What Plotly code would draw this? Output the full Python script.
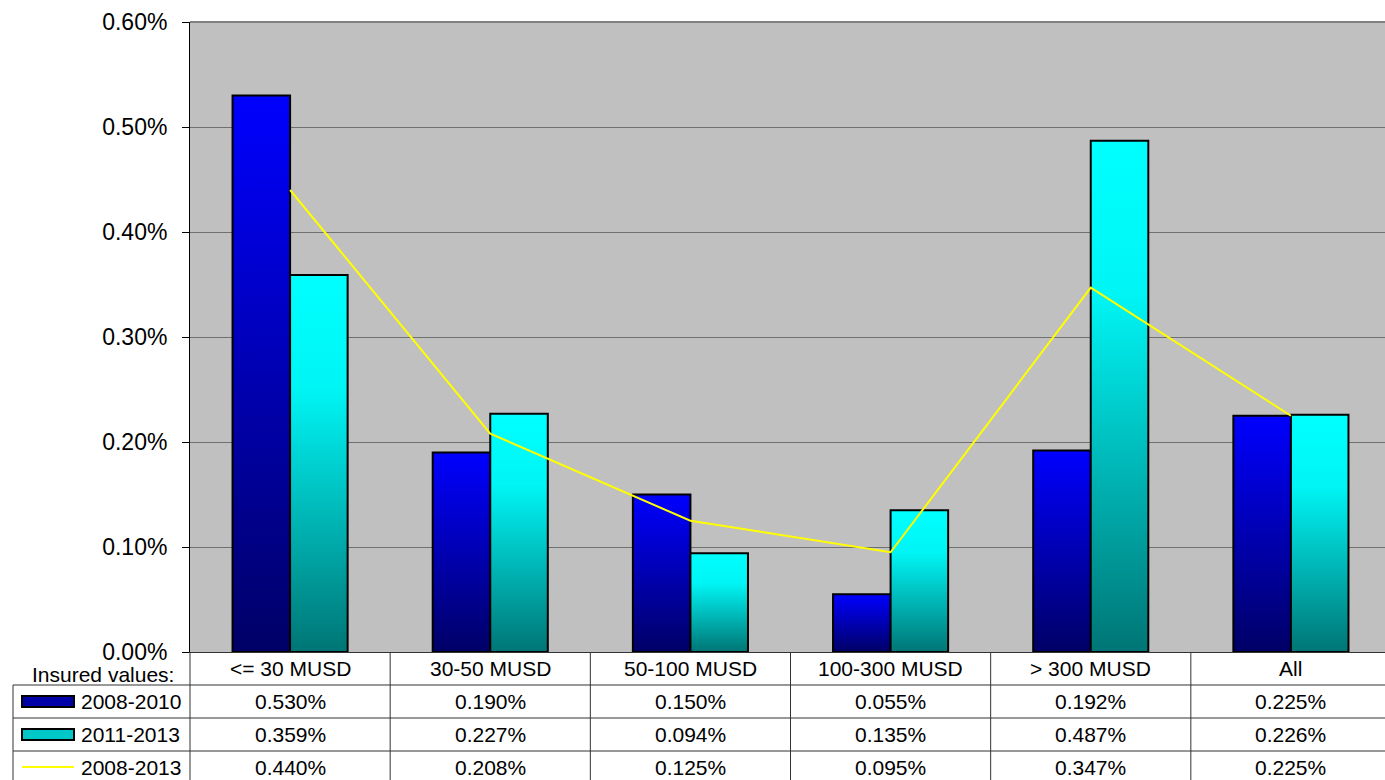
import plotly.graph_objects as go

categories = ["<= 30 MUSD", "30-50 MUSD", "50-100 MUSD", "100-300 MUSD", "> 300 MUSD", "All"]
series_names = ["2008-2010", "2011-2013", "2008-2013"]
vals_2008_2010 = [0.530, 0.190, 0.150, 0.055, 0.192, 0.225]
vals_2011_2013 = [0.359, 0.227, 0.094, 0.135, 0.487, 0.226]
vals_2008_2013 = [0.440, 0.208, 0.125, 0.095, 0.347, 0.225]
y_ticks = [0.0, 0.1, 0.2, 0.3, 0.4, 0.5, 0.6]
y_tick_labels = ["0.00%", "0.10%", "0.20%", "0.30%", "0.40%", "0.50%", "0.60%"]

FONT = "Liberation Sans, Arial, sans-serif"
W, H = 1385, 780
L, R, T, B = 190, 1385, 22, 652
XMIN, XMAX = -0.5, 5.47
BW = 0.2875

def px(X):
    return (X - L) / (R - L)

def py(Y):
    return (B - Y) / (B - T)

fig = go.Figure()

blue_scale = [[0, "#000066"], [1, "#0000FF"]]
cyan_scale = [[0, "#007575"], [0.35, "#00B5B5"], [0.7, "#00F5F5"], [1, "#00FFFF"]]

for i in range(len(categories)):
    for vals, left, scale, name in [
        (vals_2008_2010, i - BW, blue_scale, series_names[0]),
        (vals_2011_2013, i, cyan_scale, series_names[1]),
    ]:
        v = vals[i]
        x0, x1 = left, left + BW
        fig.add_trace(go.Scatter(
            x=[x0, x1, x1, x0, x0], y=[0, 0, v, v, 0],
            mode="lines", fill="toself",
            line=dict(color="black", width=2),
            fillgradient=dict(type="vertical", colorscale=scale),
            showlegend=False, name=name,
            hoverinfo="text", text=f"{name}: {v:.3f}%",
        ))

fig.add_trace(go.Scatter(
    x=list(range(len(categories))), y=vals_2008_2013,
    mode="lines", line=dict(color="#FFFF00", width=2),
    showlegend=False, name=series_names[2],
))

shapes = []
shapes.append(dict(type="line", xref="paper", yref="paper", x0=0, x1=1, y0=1, y1=1,
                   line=dict(color="#808080", width=2)))
line_col = "#333333"
for Y in [685, 718, 751]:
    shapes.append(dict(type="line", xref="paper", yref="paper", x0=px(13), x1=1,
                       y0=py(Y), y1=py(Y), line=dict(color=line_col, width=1)))
shapes.append(dict(type="line", xref="paper", yref="paper", x0=px(13), x1=px(13),
                   y0=py(685), y1=py(781), line=dict(color=line_col, width=1)))
shapes.append(dict(type="line", xref="paper", yref="paper", x0=0, x1=0,
                   y0=0, y1=py(781), line=dict(color=line_col, width=1)))
for i in range(len(categories) - 1):
    shapes.append(dict(type="line", xref="x", yref="paper", x0=i + 0.5, x1=i + 0.5,
                       y0=0, y1=py(781), line=dict(color=line_col, width=1)))
shapes.append(dict(type="rect", xref="paper", yref="paper", x0=px(22), x1=px(74),
                   y0=py(707), y1=py(696), fillcolor="#0000A8", line=dict(color="black", width=2)))
shapes.append(dict(type="rect", xref="paper", yref="paper", x0=px(22), x1=px(74),
                   y0=py(740), y1=py(729), fillcolor="#00C8C8", line=dict(color="black", width=2)))
shapes.append(dict(type="line", xref="paper", yref="paper", x0=px(22), x1=px(74),
                   y0=py(767), y1=py(767), line=dict(color="#FFFF00", width=2)))

ann = []
tf = dict(family=FONT, size=21, color="black")
ann.append(dict(text="Insured values:", xref="paper", yref="paper", x=px(176), y=py(674),
                xanchor="right", yanchor="middle", showarrow=False, font=tf))
for i, c in enumerate(categories):
    ann.append(dict(text=c, xref="x", yref="paper", x=i, y=py(668.5),
                    xanchor="center", yanchor="middle", showarrow=False, font=tf))
rows_y = [701.5, 734.5, 767]
for name, vals, Y in zip(series_names, [vals_2008_2010, vals_2011_2013, vals_2008_2013], rows_y):
    ann.append(dict(text=name, xref="paper", yref="paper", x=px(79), y=py(Y),
                    xanchor="left", yanchor="middle", showarrow=False, font=tf))
    for i, v in enumerate(vals):
        ann.append(dict(text=f"{v:.3f}%", xref="x", yref="paper", x=i, y=py(Y),
                        xanchor="center", yanchor="middle", showarrow=False, font=tf))

fig.update_layout(
    width=W, height=H,
    margin=dict(l=L, r=W - R, t=T, b=H - B, pad=0),
    paper_bgcolor="white", plot_bgcolor="#C0C0C0",
    font=dict(family=FONT, color="black"),
    shapes=shapes, annotations=ann,
    showlegend=False,
    xaxis=dict(range=[XMIN, XMAX], showticklabels=False, showgrid=False, zeroline=False,
               showline=True, linecolor="#333333", linewidth=1, fixedrange=True),
    yaxis=dict(range=[0, 0.6], tickmode="array", tickvals=y_ticks, ticktext=y_tick_labels,
               showgrid=True, gridcolor="#707070", gridwidth=1, zeroline=False,
               showline=True, linecolor="black", linewidth=1,
               ticks="outside", ticklen=7, tickcolor="black",
               ticklabelstandoff=10,
               tickfont=dict(family=FONT, size=23, color="black"), fixedrange=True),
)

fig.write_html("out.html", config={"displayModeBar": False},
               post_script="document.body.style.margin='0';document.body.style.overflow='hidden';")
